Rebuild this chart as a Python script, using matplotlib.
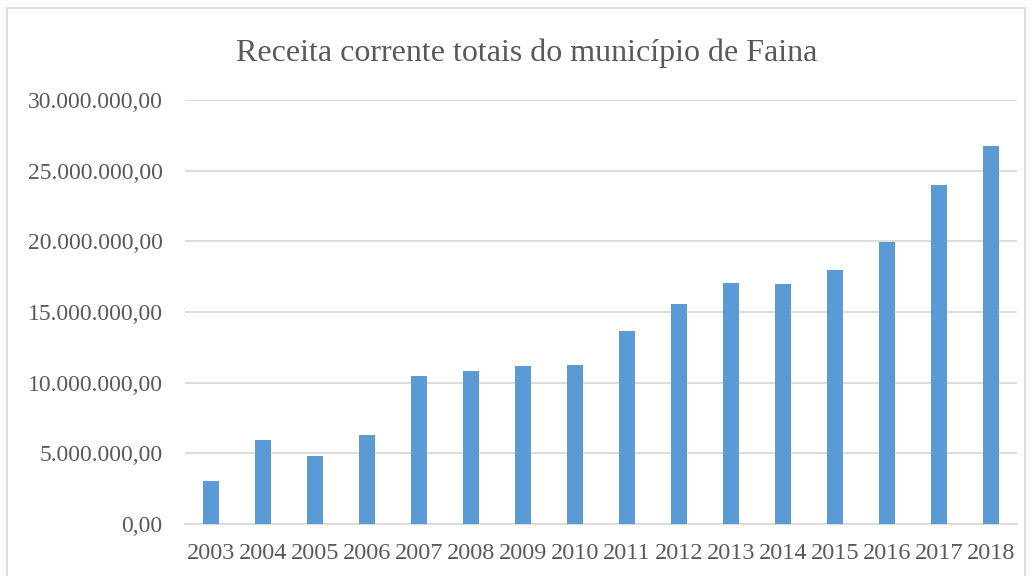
import matplotlib.pyplot as plt
from matplotlib.patches import Rectangle
from matplotlib.ticker import FuncFormatter

years = ["2003", "2004", "2005", "2006", "2007", "2008", "2009", "2010",
         "2011", "2012", "2013", "2014", "2015", "2016", "2017", "2018"]
receita = [3060000, 5940000, 4810000, 6300000, 10470000, 10840000, 11200000,
           11240000, 13650000, 15540000, 17020000, 16970000, 17960000,
           19980000, 23970000, 26750000]
yticks = [0, 5000000, 10000000, 15000000, 20000000, 25000000, 30000000]

plt.rcParams['font.family'] = ['Liberation Serif', 'DejaVu Serif']
text_color = "#595959"
grid_color = "#d9d9d9"


def br_format(v, pos):
    s = f"{v:,.2f}"
    return s.replace(",", "X").replace(".", ",").replace("X", ".")


fig = plt.figure(figsize=(10.33, 5.76), dpi=100)
ax = fig.add_axes([0.179, 0.0903, 0.8055, 0.7361])

x = range(len(years))
ax.bar(x, receita, width=0.32, color="#5b9bd5", zorder=3)

ax.set_xlim(-0.5, len(years) - 0.5)
ax.set_ylim(0, 30000000)
ax.set_yticks(yticks)
ax.yaxis.set_major_formatter(FuncFormatter(br_format))
ax.set_xticks(list(x))
ax.set_xticklabels(years)

ax.grid(axis="y", color=grid_color, linewidth=1.3, zorder=0)
for side in ["top", "right", "left"]:
    ax.spines[side].set_visible(False)
ax.spines["bottom"].set_color(grid_color)
ax.spines["bottom"].set_linewidth(1.3)
ax.tick_params(axis="y", length=0, pad=16, labelsize=17, labelcolor=text_color)
ax.tick_params(axis="x", length=0, pad=14, labelsize=17.5, labelcolor=text_color)

fig.text(527 / 1033, 1 - 53 / 576,
         "Receita corrente totais do município de Faina",
         ha="center", va="center", fontsize=23, color=text_color)

fig.patches.append(Rectangle((7 / 1033, -0.01), 1018 / 1033, 1 - 8 / 576 + 0.01,
                             transform=fig.transFigure, fill=False,
                             edgecolor=grid_color, linewidth=1.3))

fig.savefig("out.png", dpi=100)
